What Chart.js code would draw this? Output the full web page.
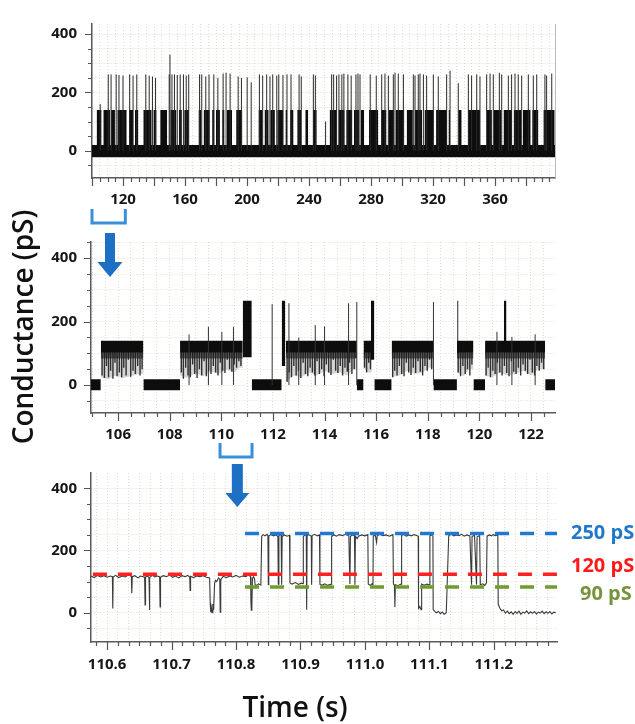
<!DOCTYPE html>
<html><head><meta charset="utf-8">
<script src="https://cdn.jsdelivr.net/npm/chart.js@4.4.1/dist/chart.umd.min.js"></script>
<style>
html,body{margin:0;padding:0;background:#fff}
#wrap{position:relative;width:635px;height:724px;overflow:hidden;background:#fff}
#wrap canvas{position:absolute;left:0;top:0}
</style></head>
<body><div id="wrap">
<canvas id="c1" width="635" height="724"></canvas>
<canvas id="c2" width="635" height="724"></canvas>
<canvas id="c3" width="635" height="724"></canvas>
<canvas id="ov" width="635" height="724"></canvas>
</div>
<script>
// ================= DATA =================
// Panel 1: overview trace (time in s, conductance in pS)
const p1XLabels = [120,160,200,240,280,320,360];
const p1YLabels = [0,200,400];
const p1OpenStart = [103.0,107.3,112.3,116.3,123.9,127.7,133.1,139.6,144.0,150.5,
  156.0,159.5,168.7,172.0,177.5,180.0,184.0,187.0,193.0,207.4,
  211.3,215.0,219.5,224.8,227.8,232.4,237.6,242.5,253.3,259.0,
  264.0,269.0,273.5,278.7,286.5,291.3,296.0,303.0,308.3,314.5,
  322.0,330.0,336.3,342.5,354.6,359.0,365.5,372.0,378.0,384.0,
  391.2];
const p1OpenEnd = [106.2,111.6,114.8,122.4,126.7,129.9,138.5,141.7,148.5,154.5,
  158.0,162.5,170.5,176.0,179.0,182.5,185.5,190.4,197.0,210.0,
  214.0,218.0,223.5,226.0,230.0,235.0,239.5,245.0,258.0,263.0,
  268.0,272.5,275.6,284.7,290.0,295.0,301.5,307.0,313.0,320.5,
  329.0,331.0,338.5,350.3,358.0,364.0,371.0,377.0,383.0,388.0,
  398.5];
const p1OpenLevel = 140;
const p1BaseLow = -22, p1BaseHigh = 20;
const p1SpikeT = [105.3,110.5,112.3,115.6,117.4,120.0,124.3,126.5,128.9,134.7,
  136.9,139.0,141.0,149.8,150.3,151.6,153.2,155.0,156.9,159.0,
  160.8,162.4,169.4,170.8,173.4,175.5,178.6,181.2,184.6,186.5,
  189.1,194.3,196.4,200.1,202.7,208.0,210.1,212.7,214.8,216.6,
  219.2,220.5,223.2,225.8,228.4,233.6,235.0,242.8,244.1,250.7,
  254.6,255.9,257.8,259.3,261.2,262.5,265.1,267.2,270.3,271.6,
  272.9,279.5,283.4,286.9,289.0,291.2,294.4,295.5,297.6,300.9,
  307.3,308.4,310.5,311.6,313.8,315.9,320.2,323.4,328.8,331.0,
  336.3,342.8,344.9,348.2,350.3,354.6,356.8,358.9,362.8,364.3,
  368.6,370.7,372.9,375.0,377.2,381.5,384.7,386.9,392.2,393.3,
  396.6];
const p1SpikeG = [160,262,262,262,260,258,262,258,262,262,
  258,255,250,262,330,262,262,260,262,262,
  258,262,262,262,255,262,262,250,265,268,
  265,255,250,252,235,262,258,262,255,262,
  258,262,260,262,262,262,255,262,258,100,
  262,262,258,262,262,265,262,258,262,265,
  262,262,258,262,265,258,262,268,265,262,
  262,258,262,265,262,258,262,255,262,275,
  232,262,258,262,255,262,265,262,268,262,
  258,262,265,262,258,262,258,262,262,258,
  265];

// Panel 2: 105–123 s
const p2XLabels = [106,108,110,112,114,116,118,120,122];
const p2YLabels = [0,200,400];
const p2OpenStart = [105.33,108.40,112.50,115.51,116.60,119.13,120.22];
const p2OpenEnd   = [106.98,110.83,115.25,115.83,118.22,119.77,122.55];
const p2OpenLow = 102, p2OpenHigh = 140;
const p2DenseFlickLow = 84;
const p2ClosedStart = [104.95,106.98,111.18,115.25,115.93,118.22,119.77,122.55];
const p2ClosedEnd   = [105.33,108.40,112.34,115.51,116.60,119.13,120.22,122.93];
const p2ClosedLow = -16, p2ClosedHigh = 18;
const p2HighStart = [110.83,112.34,115.80,119.14,120.95];
const p2HighEnd   = [111.18,112.48,115.93,119.19,121.05];
const p2HighLow   = [88,60,80,100,118];
const p2HighTop = 266;
// lower edge of the flicker region inside each open interval
const p2FlickT = [105.33,105.6,105.9,106.2,106.5,106.8,
  108.4,108.7,109.0,109.3,109.6,109.9,110.2,110.5,110.7,
  112.5,112.8,113.1,113.4,113.7,114.0,114.3,114.6,114.9,115.1,
  115.51,115.68,
  116.6,116.9,117.2,117.5,117.8,118.05,
  119.13,119.4,119.6,
  120.22,120.5,120.8,121.1,121.4,121.7,122.0,122.3];
const p2FlickG = [25,18,30,22,28,35,
  30,22,38,28,42,35,48,40,55,
  12,30,25,40,30,45,35,40,30,50,
  55,40,
  25,30,45,35,40,55,
  40,28,50,
  30,25,40,30,35,45,30,50];
// individual closing flickers (time, lowest conductance)
const p2LineT = [105.38,105.47,105.55,105.63,105.71,105.80,105.88,105.96,106.05,106.14,106.22,106.31,106.40,106.49,106.58,106.67,106.76,106.85,106.93,
  108.45,108.53,108.62,108.71,108.80,108.89,108.97,109.06,109.15,109.24,109.33,109.42,109.51,109.60,109.69,109.78,109.87,109.96,110.05,110.14,110.23,110.32,110.41,110.50,110.59,110.68,110.76,
  112.55,112.63,112.72,112.81,112.90,112.99,113.08,113.17,113.26,113.35,113.44,113.53,113.62,113.71,113.80,113.89,113.98,114.07,114.16,114.25,114.34,114.43,114.52,114.61,114.70,114.79,114.88,114.97,115.06,115.15,115.22,
  115.55,115.63,115.71,115.78,
  116.64,116.72,116.81,116.90,116.99,117.08,117.17,117.26,117.35,117.44,117.53,117.62,117.71,117.80,117.89,117.98,118.07,118.15,
  119.18,119.27,119.36,119.45,119.54,119.63,119.71,
  120.26,120.34,120.43,120.52,120.61,120.70,120.79,120.88,120.97,121.06,121.15,121.24,121.33,121.42,121.51,121.60,121.69,121.78,121.87,121.96,122.05,122.14,122.23,122.32,122.41,122.49];
const p2LineG = [30,22,60,25,45,20,70,28,40,24,55,30,80,26,45,35,60,30,50,
  40,20,55,30,25,65,35,22,50,30,75,28,45,35,60,40,30,70,45,38,80,50,42,65,55,75,60,
  10,40,25,60,30,45,22,70,35,28,55,40,30,75,35,50,28,65,40,32,80,45,38,60,30,55,42,70,35,50,85,
  55,40,70,50,
  25,45,30,60,35,28,70,40,32,55,38,75,42,30,60,45,80,50,
  40,28,60,35,50,30,65,
  30,55,25,45,35,70,40,30,60,38,28,75,42,35,55,30,65,45,35,80,40,30,60,45,70,50];
const p2SpikeT = [111.97,112.62,114.93,115.25,118.22,108.75,109.5,110.02,110.47,113.0,113.64,114.0,120.68,121.26,122.16];
const p2SpikeG = [255,258,258,262,262,160,184,168,184,150,189,185,168,152,160];

// Panel 3: 110.58–111.30 s
const p3XLabels = [110.6,110.7,110.8,110.9,111.0,111.1,111.2];
const p3YLabels = [0,200,400];
const p3T = [110.575,110.580,110.585,110.590,110.595,110.600,110.605,110.6082,110.6088,110.6094,
  110.613,110.618,110.623,110.628,110.633,110.6376,110.6383,110.6390,110.643,110.648,
  110.652,110.6582,110.6589,110.6596,110.662,110.6650,110.6656,110.6663,110.670,110.674,
  110.678,110.6815,110.6822,110.6829,110.687,110.692,110.697,110.702,110.706,110.711,
  110.716,110.721,110.725,110.7282,110.7288,110.7295,110.734,110.739,110.744,110.749,
  110.754,110.7590,110.7600,110.7608,110.7618,110.7628,110.7640,110.7652,110.7668,110.7682,
  110.7700,110.7728,110.7748,110.7755,110.7763,110.780,110.785,110.790,110.795,110.800,
  110.805,110.810,110.815,110.8195,110.8225,110.8232,110.8238,110.8246,110.8255,110.8272,
  110.8288,110.8296,110.832,110.835,110.8385,110.8398,110.842,110.845,110.848,110.8495,
  110.8501,110.8508,110.854,110.858,110.862,110.8650,110.8656,110.8665,110.8700,110.8708,
  110.8716,110.875,110.879,110.8830,110.8837,110.887,110.892,110.897,110.901,110.9040,
  110.9044,110.907,110.9090,110.9096,110.9103,110.913,110.9168,110.9173,110.9180,110.922,
  110.926,110.9295,110.9302,110.934,110.938,110.942,110.9478,110.9483,110.952,110.956,
  110.960,110.965,110.970,110.975,110.9767,110.9775,110.980,110.9838,110.9845,110.9852,
  110.988,110.990,110.995,111.000,111.0045,111.0052,111.008,111.011,111.0125,111.0129,
  111.016,111.0181,111.0190,111.023,111.028,111.033,111.038,111.0435,111.0442,111.0458,
  111.0465,111.0472,111.051,111.0562,111.0569,111.060,111.064,111.068,111.072,111.076,
  111.080,111.0827,111.0832,111.0852,111.0870,111.0880,111.092,111.096,111.1003,111.1008,
  111.103,111.1055,111.1059,111.108,111.111,111.114,111.117,111.120,111.123,111.1262,
  111.1300,111.134,111.138,111.142,111.146,111.150,111.154,111.158,111.1628,111.1654,
  111.1662,111.1700,111.1731,111.1740,111.1780,111.1790,111.183,111.1860,111.1886,111.1895,
  111.193,111.1965,111.1990,111.2025,111.2062,111.2068,111.209,111.212,111.215,111.218,
  111.221,111.224,111.227,111.230,111.233,111.236,111.239,111.242,111.245,111.248,
  111.251,111.254,111.257,111.260,111.263,111.266,111.269,111.272,111.275,111.278,
  111.281,111.284,111.287,111.290,111.293,111.296];
const p3G = [118,113,120,115,119,114,118,116,14,115,
  120,113,118,115,121,117,63,116,119,112,
  118,114,25,115,118,114,9,113,120,115,
  118,116,19,114,119,116,121,114,118,112,
  119,116,120,115,72,117,113,118,116,119,
  114,112,30,2,15,0,28,8,95,104,
  100,112,108,2,106,117,113,118,115,120,
  114,118,116,121,116,30,8,25,110,116,
  108,90,88,93,89,246,251,247,252,248,
  90,246,251,247,250,245,92,248,252,90,
  245,250,246,249,96,92,97,91,95,93,
  245,250,248,10,247,251,246,90,248,252,
  247,250,91,89,93,88,92,246,250,246,
  251,248,252,247,92,245,250,248,90,246,
  238,246,250,247,251,92,88,93,90,246,
  250,226,247,252,248,250,246,251,92,88,
  18,90,87,92,248,252,246,250,247,251,
  248,246,14,20,10,92,88,92,89,247,
  250,246,10,5,0,4,-3,2,-5,0,
  248,252,247,250,248,252,246,250,247,90,
  245,249,91,244,248,90,93,88,96,246,
  250,247,251,248,250,28,16,6,9,-1,
  5,-3,3,-5,4,-2,5,-5,2,-1,
  6,-3,3,-2,4,-4,2,-1,5,-3,
  3,-2,4,-4,2,0];
const levelNames  = ['250 pS','120 pS','90 pS'];
const levelValues = [255,124,83];
const levelStart  = [110.814,110.578,110.814];

// zoom indicators (bracket range on upper panel, arrow position)
const zoom1Range = [100.0,121.5], zoom1Arrow = 111.6;
const zoom2Range = [109.95,111.19], zoom2Arrow = 110.62;

// ================= STYLE / LAYOUT =================
const W = 635, H = 724, XAX = 30;
const FONT = '"Open Sans", "DejaVu Sans", sans-serif';
const BLACK = '#0d0d0d';
const GRID = 'rgba(200,196,160,0.55)';
const levelColors = ['#1f78d1','#ff2020','#6f9b2f'];
const levelText   = ['#1f78c8','#ff1a1a','#77933c'];

function stepTicks(anchor, step, min, max) {
  const out = [];
  for (let k = Math.ceil((min - anchor) / step - 1e-9); anchor + k * step <= max + 1e-9; k++) out.push(+(anchor + k * step).toFixed(6));
  return out;
}
function rectData(starts, ends, top) {
  const d = [];
  starts.forEach((s, i) => { const t = Array.isArray(top) ? top[i] : top; d.push({x:s,y:t},{x:ends[i],y:t},{x:ends[i],y:null}); });
  return d;
}
function spikeData(ts, gs, base) {
  const d = [];
  ts.forEach((t, i) => d.push({x:t,y:base},{x:t,y:gs[i]},{x:t,y:null}));
  return d;
}
function fillDS(data, low, color, order) {
  return {data, fill:{value:low}, backgroundColor:color, borderColor:'transparent', borderWidth:0,
    pointRadius:0, spanGaps:false, tension:0, order};
}
function lineDS(data, color, width, order, extra) {
  return Object.assign({data, fill:false, borderColor:color, borderWidth:width, pointRadius:0,
    spanGaps:false, tension:0, order}, extra || {});
}

function makeTickPlugin(cfg) {
  return { id: 'axisTicks', afterDraw(chart) {
    const ctx = chart.ctx, ca = chart.chartArea, xs = chart.scales.x, ys = chart.scales.y;
    const isMajor = (list, v) => list.some(m => Math.abs(m - v) < 1e-6);
    ctx.save(); ctx.strokeStyle = '#555'; ctx.lineWidth = 1.2; ctx.beginPath();
    cfg.xMinor.forEach(v => { const p = Math.round(xs.getPixelForValue(v)) + 0.5;
      const L = isMajor(cfg.xMajor, v) ? 8 : 4; ctx.moveTo(p, ca.bottom); ctx.lineTo(p, ca.bottom + L); });
    cfg.yMinor.forEach(v => { const p = Math.round(ys.getPixelForValue(v)) + 0.5;
      const L = isMajor(cfg.yMajor, v) ? 7 : 4; ctx.moveTo(ca.left, p); ctx.lineTo(ca.left - L, p); });
    ctx.stroke();
    if (cfg.rightBorder) { ctx.strokeStyle = '#bdbdbd'; ctx.lineWidth = 1; ctx.beginPath();
      ctx.moveTo(Math.round(ca.right) + 0.5, ca.top); ctx.lineTo(Math.round(ca.right) + 0.5, ca.bottom); ctx.stroke(); }
    ctx.restore();
  }};
}

function makeChart(id, area, xr, yr, xTicks, xMajor, xLabels, yTicks, yLabels, fmt, datasets, lblPad, yPad, rightBorder) {
  const lab = (labels, f) => v => { const l = labels.find(L => Math.abs(L - v) < 1e-6); return l === undefined ? '' : f(l); };
  const tickFont = {family: FONT, weight: 'bold', size: 15};
  return new Chart(document.getElementById(id), {
    type: 'line',
    data: { datasets },
    options: {
      responsive: false, animation: false, events: [],
      layout: { padding: { left: 0, top: area.top, right: W - area.right, bottom: H - area.bottom - XAX } },
      plugins: { legend: {display: false}, tooltip: {enabled: false} },
      scales: {
        x: { type: 'linear', position: 'bottom', min: xr[0], max: xr[1],
          afterBuildTicks: s => { s.ticks = xTicks.map(v => ({value: v})); },
          afterFit: s => { s.height = XAX; },
          ticks: { autoSkip: false, maxRotation: 0, minRotation: 0, padding: lblPad, color: '#161616', font: tickFont, callback: lab(xLabels, fmt) },
          grid: { color: GRID, lineWidth: 1, drawTicks: false },
          border: { display: true, color: '#5a5a5a', width: 1.5, dash: [1, 2] } },
        y: { type: 'linear', position: 'left', min: yr[0], max: yr[1],
          afterBuildTicks: s => { s.ticks = yTicks.map(v => ({value: v})); },
          afterFit: s => { s.width = area.left; },
          ticks: { autoSkip: false, padding: yPad, color: '#161616', font: tickFont, callback: lab(yLabels, v => String(v)) },
          grid: { color: GRID, lineWidth: 1, drawTicks: false },
          border: { display: true, color: '#5a5a5a', width: 1.5, dash: [1, 2] } }
      }
    },
    plugins: [makeTickPlugin({xMinor: xTicks, xMajor, yMinor: yTicks, yMajor: yLabels, rightBorder})]
  });
}

// ---------- Panel 1 ----------
const A1 = {left: 92, right: 555, top: 14, bottom: 178};
const x1r = [100, 398.7], y1r = [-93.5, 435];
const ds1 = [
  fillDS([{x: x1r[0], y: p1BaseHigh}, {x: x1r[1], y: p1BaseHigh}], p1BaseLow, BLACK, 10),
  fillDS(rectData(p1OpenStart, p1OpenEnd, p1OpenLevel), 0, BLACK, 9),
  lineDS(spikeData(p1SpikeT, p1SpikeG, 0), '#2b2b2b', 1, 1)
];
const ch1 = makeChart('c1', A1, x1r, y1r,
  stepTicks(120, 5, x1r[0], x1r[1]), stepTicks(120, 20, x1r[0], x1r[1]), p1XLabels,
  stepTicks(0, 50, y1r[0], y1r[1]), p1YLabels, v => String(v), ds1, 13, 15, true);

// ---------- Panel 2 ----------
const A2 = {left: 91, right: 555, top: 242, bottom: 413};
const x2r = [104.95, 122.93], y2r = [-88, 451];
function flickEnvelope() {
  const d = [];
  p2OpenStart.forEach((s, i) => {
    const e = p2OpenEnd[i]; let last = null;
    p2FlickT.forEach((t, j) => { if (t >= s - 1e-6 && t <= e + 1e-6) { d.push({x: t, y: p2FlickG[j]}); last = p2FlickG[j]; } });
    if (last !== null) d.push({x: e, y: last}, {x: e, y: null});
  });
  return d;
}
const ds2 = [
  fillDS(flickEnvelope(), p2OpenLow, 'rgba(150,150,150,0.4)', 13),
  fillDS(rectData(p2OpenStart, p2OpenEnd, p2OpenLow), p2DenseFlickLow, 'rgba(40,40,40,0.7)', 12),
  lineDS(p2LineT.reduce((d, t, i) => (d.push({x: t, y: p2OpenLow + 4}, {x: t, y: p2LineG[i]}, {x: t, y: null}), d), []), 'rgba(30,30,30,0.9)', 1.4, 11),
  fillDS(rectData(p2OpenStart, p2OpenEnd, p2OpenHigh), p2OpenLow, BLACK, 9),
  fillDS(rectData(p2ClosedStart, p2ClosedEnd, p2ClosedHigh), p2ClosedLow, BLACK, 9),
  lineDS(spikeData(p2SpikeT, p2SpikeG, 0), '#333', 1, 2)
];
p2HighStart.forEach((s, i) => ds2.push(fillDS(rectData([s], [p2HighEnd[i]], p2HighTop), p2HighLow[i], BLACK, 3)));
const ch2 = makeChart('c2', A2, x2r, y2r,
  stepTicks(106, 0.5, x2r[0], x2r[1]), stepTicks(106, 2, x2r[0], x2r[1]), p2XLabels,
  stepTicks(0, 50, y2r[0], y2r[1]), p2YLabels, v => String(v), ds2, 13, 14, false);

// ---------- Panel 3 ----------
const A3 = {left: 91, right: 557, top: 473, bottom: 642};
const x3r = [110.575, 111.298], y3r = [-94, 449];
const ds3 = [
  lineDS(p3T.map((t, i) => ({x: t, y: p3G[i]})), '#3a3a3a', 1.1, 5)
];
levelValues.forEach((v, i) => ds3.push(lineDS([{x: levelStart[i], y: v}, {x: x3r[1], y: v}], levelColors[i], 3.5, 1,
  {borderDash: [14, 11], borderCapStyle: 'butt'})));
const ch3 = makeChart('c3', A3, x3r, y3r,
  stepTicks(110.6, 0.1 / 6, x3r[0], x3r[1]), stepTicks(110.6, 0.1, x3r[0], x3r[1]), p3XLabels,
  stepTicks(0, 50, y3r[0], y3r[1]), p3YLabels, v => v.toFixed(1), ds3, 14, 14, false);

// ---------- Overlay: zoom markers, level labels, axis titles ----------
(function () {
  const ctx = document.getElementById('ov').getContext('2d');
  function bracket(chart, range, dTop, dBot) {
    const xs = chart.scales.x, b = chart.chartArea.bottom;
    const x1 = xs.getPixelForValue(range[0]), x2 = xs.getPixelForValue(range[1]);
    ctx.save(); ctx.strokeStyle = '#3b8ed8'; ctx.lineWidth = 3; ctx.lineJoin = 'miter';
    ctx.beginPath(); ctx.moveTo(x1, b + dTop); ctx.lineTo(x1, b + dBot); ctx.lineTo(x2, b + dBot); ctx.lineTo(x2, b + dTop); ctx.stroke();
    ctx.restore();
  }
  function arrow(cx, yTop, yHead, yTip, sw, hw) {
    ctx.save(); ctx.fillStyle = '#1d6fc4'; ctx.beginPath();
    ctx.moveTo(cx - sw / 2, yTop); ctx.lineTo(cx + sw / 2, yTop); ctx.lineTo(cx + sw / 2, yHead);
    ctx.lineTo(cx + hw / 2, yHead); ctx.lineTo(cx, yTip); ctx.lineTo(cx - hw / 2, yHead); ctx.lineTo(cx - sw / 2, yHead);
    ctx.closePath(); ctx.fill(); ctx.restore();
  }
  bracket(ch1, zoom1Range, 31, 45);
  arrow(ch1.scales.x.getPixelForValue(zoom1Arrow), ch2.chartArea.top - 9, ch2.chartArea.top + 20, ch2.chartArea.top + 35, 10, 25);
  bracket(ch2, zoom2Range, 30, 44);
  arrow(ch2.scales.x.getPixelForValue(zoom2Arrow), ch3.chartArea.top - 9, ch3.chartArea.top + 20, ch3.chartArea.top + 34, 11, 24);

  // level labels
  const offs = [0, -8, 7], xoff = [14, 14, 23];
  ctx.save(); ctx.font = 'bold 20px ' + FONT; ctx.textBaseline = 'middle'; ctx.textAlign = 'left';
  levelValues.forEach((v, i) => {
    ctx.fillStyle = levelText[i];
    ctx.fillText(levelNames[i], ch3.chartArea.right + xoff[i], ch3.scales.y.getPixelForValue(v) + offs[i]);
  });
  ctx.restore();

  // axis titles
  ctx.save(); ctx.fillStyle = '#111'; ctx.font = '600 28px ' + FONT; ctx.textAlign = 'center'; ctx.textBaseline = 'middle';
  ctx.translate(25, 327); ctx.rotate(-Math.PI / 2); ctx.fillText('Conductance (pS)', 0, 0);
  ctx.restore();
  ctx.save(); ctx.fillStyle = '#111'; ctx.font = '600 28px ' + FONT; ctx.textAlign = 'center'; ctx.textBaseline = 'middle';
  ctx.fillText('Time (s)', 295, 709);
  ctx.restore();
})();
</script>
</body></html>
